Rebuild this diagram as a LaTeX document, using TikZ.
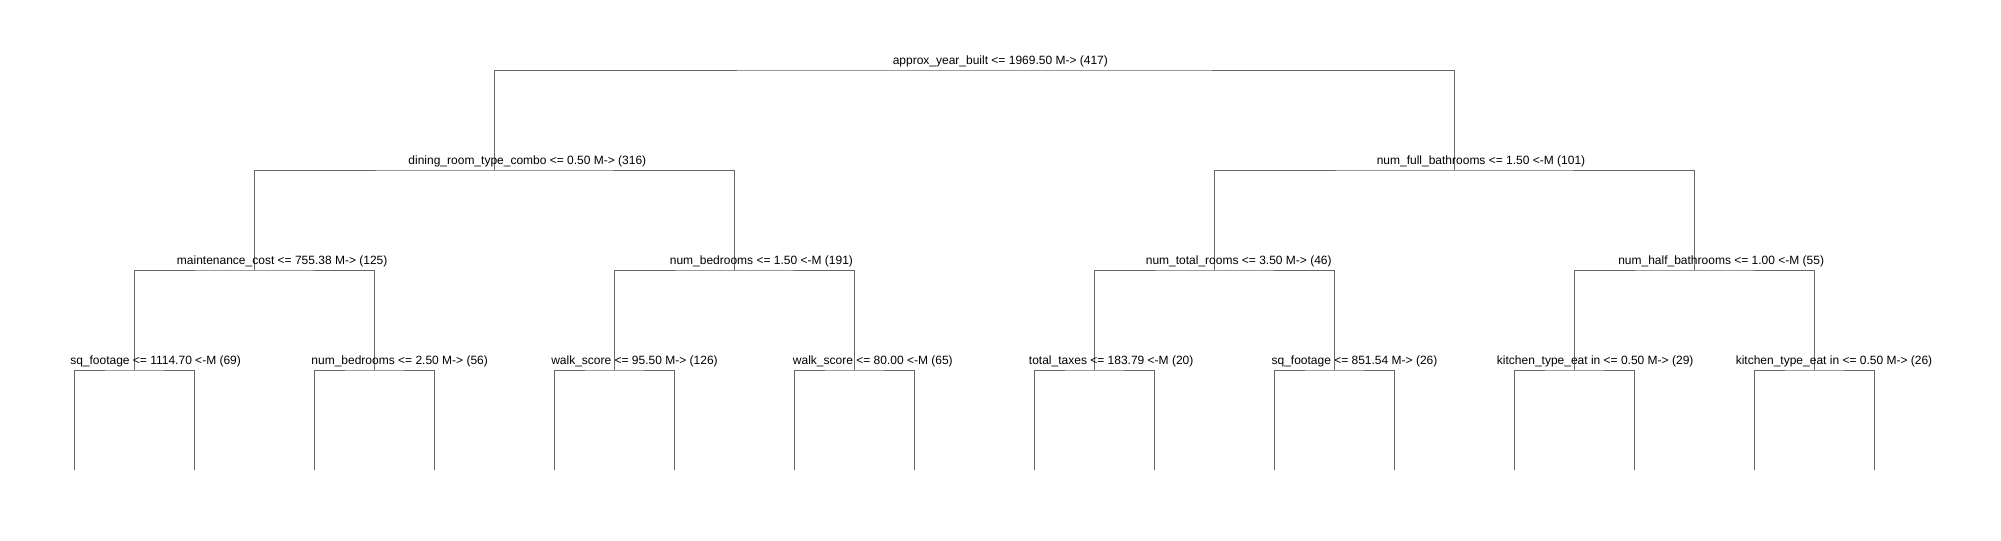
\documentclass[tikz,border=0pt]{standalone}
\usepackage{fontspec}
\setmainfont{Liberation Sans}
\usepackage{tikz}

\definecolor{branchgray}{RGB}{102,102,102}

\tikzset{
  split/.style={draw=branchgray, line width=0.75pt},
  splitlabel/.style={anchor=base west, inner sep=0pt, text=black, font=\fontsize{9}{11}\selectfont},
}

\begin{document}
\begin{tikzpicture}[x=0.75pt,y=0.75pt,yscale=-1,xscale=1]
    %set diagram left start at 0, width 2001 and height 540
    \useasboundingbox (0,0) rectangle (2001,540);

    % Split points
    \coordinate (yearbuilt) at (974.5,70);
    \coordinate (dining) at (494.5,170);
    \coordinate (fullbath) at (1454.5,170);
    \coordinate (maint) at (254.5,270);
    \coordinate (beds1) at (734.5,270);
    \coordinate (rooms) at (1214.5,270);
    \coordinate (halfbath) at (1694.5,270);
    \coordinate (sqft1) at (134.5,370);
    \coordinate (beds2) at (374.5,370);
    \coordinate (walk1) at (614.5,370);
    \coordinate (walk2) at (854.5,370);
    \coordinate (taxes) at (1094.5,370);
    \coordinate (sqft2) at (1334.5,370);
    \coordinate (kitchen1) at (1574.5,370);
    \coordinate (kitchen2) at (1814.5,370);
    % Leaves
    \coordinate (l1) at (74.5,470);
    \coordinate (l2) at (194.5,470);
    \coordinate (l3) at (314.5,470);
    \coordinate (l4) at (434.5,470);
    \coordinate (l5) at (554.5,470);
    \coordinate (l6) at (674.5,470);
    \coordinate (l7) at (794.5,470);
    \coordinate (l8) at (914.5,470);
    \coordinate (l9) at (1034.5,470);
    \coordinate (l10) at (1154.5,470);
    \coordinate (l11) at (1274.5,470);
    \coordinate (l12) at (1394.5,470);
    \coordinate (l13) at (1514.5,470);
    \coordinate (l14) at (1634.5,470);
    \coordinate (l15) at (1754.5,470);
    \coordinate (l16) at (1874.5,470);

    % Branches
    \draw [split] (dining) |- (yearbuilt) -| (fullbath) ;
    \draw [split] (maint) |- (dining) -| (beds1) ;
    \draw [split] (rooms) |- (fullbath) -| (halfbath) ;
    \draw [split] (sqft1) |- (maint) -| (beds2) ;
    \draw [split] (walk1) |- (beds1) -| (walk2) ;
    \draw [split] (taxes) |- (rooms) -| (sqft2) ;
    \draw [split] (kitchen1) |- (halfbath) -| (kitchen2) ;
    \draw [split] (l1) |- (sqft1) -| (l2) ;
    \draw [split] (l3) |- (beds2) -| (l4) ;
    \draw [split] (l5) |- (walk1) -| (l6) ;
    \draw [split] (l7) |- (walk2) -| (l8) ;
    \draw [split] (l9) |- (taxes) -| (l10) ;
    \draw [split] (l11) |- (sqft2) -| (l12) ;
    \draw [split] (l13) |- (kitchen1) -| (l14) ;
    \draw [split] (l15) |- (kitchen2) -| (l16) ;

    % Text Node
    \node (t-yearbuilt) [splitlabel] at (892.5,64) {approx\_year\_built <= 1969.50 M-> (417)};
    % Text Node
    \node (t-dining) [splitlabel] at (408.2,164) {dining\_room\_type\_combo <= 0.50 M-> (316)};
    % Text Node
    \node (t-fullbath) [splitlabel] at (1376.5,164) {num\_full\_bathrooms <= 1.50 <-M (101)};
    % Text Node
    \node (t-maint) [splitlabel] at (176.7,264) {maintenance\_cost <= 755.38 M-> (125)};
    % Text Node
    \node (t-beds1) [splitlabel] at (669.6,264) {num\_bedrooms <= 1.50 <-M (191)};
    % Text Node
    \node (t-rooms) [splitlabel] at (1145.6,264) {num\_total\_rooms <= 3.50 M-> (46)};
    % Text Node
    \node (t-halfbath) [splitlabel] at (1618,264) {num\_half\_bathrooms <= 1.00 <-M (55)};
    % Text Node
    \node (t-sqft1) [splitlabel] at (70,364) {sq\_footage <= 1114.70 <-M (69)};
    % Text Node
    \node (t-beds2) [splitlabel] at (311.2,364) {num\_bedrooms <= 2.50 M-> (56)};
    % Text Node
    \node (t-walk1) [splitlabel] at (551,364) {walk\_score <= 95.50 M-> (126)};
    % Text Node
    \node (t-walk2) [splitlabel] at (792.7,364) {walk\_score <= 80.00 <-M (65)};
    % Text Node
    \node (t-taxes) [splitlabel] at (1028.7,364) {total\_taxes <= 183.79 <-M (20)};
    % Text Node
    \node (t-sqft2) [splitlabel] at (1271.3,364) {sq\_footage <= 851.54 M-> (26)};
    % Text Node
    \node (t-kitchen1) [splitlabel] at (1496.7,364) {kitchen\_type\_eat in <= 0.50 M-> (29)};
    % Text Node
    \node (t-kitchen2) [splitlabel] at (1735.5,364) {kitchen\_type\_eat in <= 0.50 M-> (26)};
\end{tikzpicture}
\end{document}
